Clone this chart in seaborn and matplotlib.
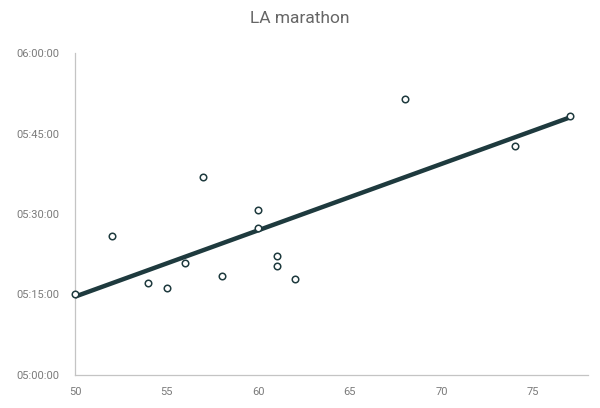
import matplotlib
matplotlib.use("Agg")
import matplotlib.pyplot as plt
import matplotlib.ticker as mticker
import seaborn as sns
import pandas as pd

# Data
age = [50, 52, 54, 55, 56, 57, 58, 60, 60, 61, 61, 62, 68, 74, 77]
finish_time = ["05:15:02", "05:25:50", "05:17:05", "05:16:09", "05:20:49",
               "05:36:50", "05:18:23", "05:30:41", "05:27:20", "05:22:07",
               "05:20:15", "05:17:53", "05:51:22", "05:42:37", "05:48:16"]
x_ticks = [50, 55, 60, 65, 70, 75]
y_ticks = ["05:00:00", "05:15:00", "05:30:00", "05:45:00", "06:00:00"]
title = "LA marathon"


def to_sec(s):
    h, m, sec = (int(p) for p in s.split(":"))
    return h * 3600 + m * 60 + sec


def fmt(v, pos=None):
    v = int(round(v))
    return f"{v // 3600:02d}:{(v % 3600) // 60:02d}:{v % 60:02d}"


df = pd.DataFrame({"age": age, "secs": [to_sec(t) for t in finish_time]})

sns.set_style("white")
plt.rcParams["font.family"] = ["Roboto", "DejaVu Sans"]

fig = plt.figure(figsize=(6, 4.08), dpi=100)
ax = fig.add_axes([0.125, 0.081, 0.855, 0.789])

line_col = "#1e3a3e"
sns.regplot(data=df, x="age", y="secs", ax=ax, ci=None, truncate=True,
            scatter=False, line_kws=dict(color=line_col, lw=3.2, zorder=2,
                                         solid_capstyle="butt", clip_on=False))
sns.scatterplot(data=df, x="age", y="secs", ax=ax, s=22, marker="o",
                facecolor="white", edgecolor=line_col, linewidth=1.1, zorder=3,
                clip_on=False)

ax.set_xlim(50, 78)
ax.set_ylim(to_sec(y_ticks[0]), to_sec(y_ticks[-1]))
ax.set_xticks(x_ticks)
ax.set_yticks([to_sec(t) for t in y_ticks])
ax.yaxis.set_major_formatter(mticker.FuncFormatter(fmt))
ax.set_xlabel("")
ax.set_ylabel("")

for side in ["top", "right"]:
    ax.spines[side].set_visible(False)
for side in ["left", "bottom"]:
    ax.spines[side].set_color("#c4c4c4")
    ax.spines[side].set_linewidth(0.9)
    ax.spines[side].set_zorder(1)

ax.tick_params(axis="both", length=0, labelsize=8, labelcolor="#7a7a7a")
ax.tick_params(axis="y", pad=11)
ax.tick_params(axis="x", pad=9)

fig.suptitle(title, y=0.972, fontsize=12.5, color="#666666")

fig.savefig("out.png", dpi=100)
